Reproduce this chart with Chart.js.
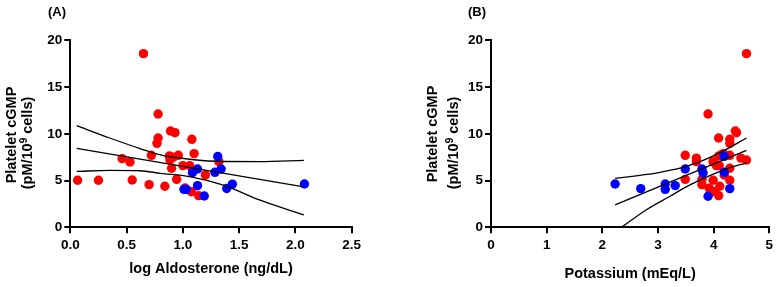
<!DOCTYPE html>
<html>
<head>
<meta charset="utf-8">
<script src="https://cdn.jsdelivr.net/npm/chart.js@4.4.1/dist/chart.umd.min.js"></script>
<style>
  html, body { margin: 0; padding: 0; background: #fff; }
  #wrap { position: relative; width: 778px; height: 287px; }
  .panel { position: absolute; top: 0; height: 287px; }
  #panel-a { left: 0; width: 390px; }
  #panel-b { left: 390px; width: 388px; }
</style>
</head>
<body>
<div id="wrap">
  <div class="panel" id="panel-a"><canvas id="chart-a" width="390" height="287"></canvas></div>
  <div class="panel" id="panel-b"><canvas id="chart-b" width="388" height="287"></canvas></div>
</div>
<script>
// (A) log aldosterone vs platelet cGMP
const aldoRedX = [0.065, 0.25, 0.46, 0.53, 0.55, 0.65, 0.70, 0.72, 0.78, 0.78, 0.77, 0.84, 0.88, 0.89, 0.93,
  0.885, 0.915, 0.90, 0.96, 0.945, 1.00, 1.06, 1.08, 1.10, 1.02, 1.075, 1.14, 1.20, 1.32];
const aldoRedY = [5.03, 5.03, 7.34, 6.99, 5.06, 18.57, 4.56, 7.70, 12.12, 9.55, 8.98, 4.39, 7.62, 10.3, 10.12,
  7.2, 7.5, 6.31, 7.70, 5.13, 6.6, 6.6, 9.41, 7.88, 4.2, 3.81, 3.39, 5.6, 7.02];
const aldoBlueX = [1.01, 1.03, 1.085, 1.13, 1.13, 1.19, 1.285, 1.31, 1.34, 1.39, 1.44, 2.08];
const aldoBlueY = [4.06, 4.06, 5.84, 6.24, 4.45, 3.35, 5.88, 7.57, 6.24, 4.15, 4.62, 4.63];

const aldoFitX = [0.057, 2.075];
const aldoFitY = [8.45, 4.33];
const aldoBandX = [0.057, 0.35, 0.62, 0.80, 1.06, 1.36, 1.68, 2.075];
const aldoUpperY = [10.87, 9.55, 8.42, 7.75, 7.28, 7.04, 7.03, 7.16];
const aldoLowerY = [5.98, 6.08, 6.05, 5.77, 5.42, 4.5, 2.93, 1.32];

// (B) potassium vs platelet cGMP
const kRedX = [4.59, 3.90, 4.39, 4.41, 4.09, 4.29, 4.29, 4.17, 3.49, 4.29, 4.09, 4.49, 3.69, 4.59, 3.69,
  3.99, 4.10, 4.05, 4.29, 4.19, 3.49, 3.79, 3.99, 4.29, 3.79, 4.11, 3.92, 4.02, 4.09];
const kRedY = [18.57, 12.12, 10.3, 10.12, 9.55, 9.41, 8.98, 7.88, 7.70, 7.70, 7.62, 7.4, 7.4, 7.2, 7.02,
  7.02, 6.6, 6.6, 6.31, 5.6, 5.13, 5.13, 5.03, 5.03, 4.56, 4.39, 4.17, 3.81, 3.39];
const kBlueX = [2.23, 2.69, 3.13, 3.13, 3.31, 3.49, 3.79, 3.81, 3.90, 4.19, 4.19, 4.29];
const kBlueY = [4.63, 4.14, 4.63, 4.06, 4.46, 6.24, 6.24, 5.81, 3.32, 7.59, 5.88, 4.14];

const kFitX = [2.23, 4.59];
const kFitY = [2.39, 8.23];
const kBandX = [2.23, 2.8, 3.21, 3.5, 3.81, 4.2, 4.59];
const kUpperY = [5.24, 5.65, 6.1, 6.5, 7.15, 8.25, 9.55];
const kLowerY = [-0.5, 1.9, 3.3, 4.3, 5.2, 6.2, 6.9];

// ticks
const yTicks = [0, 5, 10, 15, 20];
const aldoTicks = [0, 0.5, 1.0, 1.5, 2.0, 2.5];
const kTicks = [0, 1, 2, 3, 4, 5];

const FONT = '"Liberation Sans", Arial, sans-serif';
const RED = "#ff0000";
const BLUE = "#0000ff";

function toPoints(xs, ys) {
  return xs.map((x, i) => ({ x, y: ys[i] }));
}

/** 축 제목 / 패널 라벨 (윗첨자 포함) */
const panelText = {
  id: "panelText",
  afterDraw(chart, args, opts) {
    const ctx = chart.ctx;
    const big = `bold 14.5px ${FONT}`;
    const sup = `bold 10px ${FONT}`;
    ctx.save();
    ctx.fillStyle = "#000";
    ctx.textBaseline = "middle";
    ctx.font = `bold 13px ${FONT}`;
    ctx.textAlign = "left";
    ctx.fillText(opts.label, opts.labelX, opts.labelY);

    // line 1
    ctx.save();
    ctx.font = big;
    ctx.translate(opts.line1X, opts.line1Y);
    ctx.rotate(-Math.PI / 2);
    ctx.textAlign = "center";
    ctx.fillText("Platelet cGMP", 0, 0);
    ctx.restore();

    // line 2: (pM/10^9 cells)
    ctx.save();
    ctx.translate(opts.line2X, opts.line2Y);
    ctx.rotate(-Math.PI / 2);
    ctx.textAlign = "left";
    const p1 = "(pM/10";
    const p2 = "9";
    const p3 = " cells)";
    ctx.font = big;
    const w1 = ctx.measureText(p1).width;
    const w3 = ctx.measureText(p3).width;
    ctx.font = sup;
    const w2 = ctx.measureText(p2).width;
    const x0 = -(w1 + w2 + w3) / 2;
    ctx.font = big;
    ctx.fillText(p1, x0, 0);
    ctx.font = sup;
    ctx.fillText(p2, x0 + w1, -3.5);
    ctx.font = big;
    ctx.fillText(p3, x0 + w1 + w2, 0);
    ctx.restore();

    ctx.restore();
  },
};

function lineSet(xs, ys, smooth) {
  return {
    type: "line",
    data: toPoints(xs, ys),
    borderColor: "#000",
    borderWidth: 1.3,
    pointRadius: 0,
    fill: false,
    showLine: true,
    cubicInterpolationMode: smooth ? "monotone" : "default",
    tension: 0,
  };
}

function dotSet(xs, ys, color) {
  return {
    type: "scatter",
    data: toPoints(xs, ys),
    backgroundColor: color,
    borderColor: color,
    borderWidth: 0,
    pointRadius: 4.7,
  };
}

function makePanel(canvasId, cfg) {
  const ctx = document.getElementById(canvasId).getContext("2d");
  return new Chart(ctx, {
    type: "scatter",
    data: {
      datasets: [
        lineSet(cfg.fitX, cfg.fitY, false),
        lineSet(cfg.bandX, cfg.upperY, true),
        lineSet(cfg.bandX, cfg.lowerY, true),
        dotSet(cfg.blueX, cfg.blueY, BLUE),
        dotSet(cfg.redX, cfg.redY, RED),
      ],
    },
    options: {
      responsive: false,
      animation: false,
      layout: {
        padding: { left: 0, top: 40.3, right: cfg.padRight, bottom: 0 },
      },
      scales: {
        x: {
          type: "linear",
          min: cfg.xTicks[0],
          max: cfg.xTicks[cfg.xTicks.length - 1],
          afterBuildTicks: (scale) => {
            scale.ticks = cfg.xTicks.map((v) => ({ value: v }));
          },
          afterFit: (scale) => {
            scale.height = 287 - 227.3;
          },
          grid: { drawOnChartArea: false, drawTicks: true, tickLength: 6, color: "#000", lineWidth: 2 },
          border: { color: "#000", width: 2 },
          ticks: {
            color: "#000",
            padding: 4,
            maxRotation: 0,
            font: { family: FONT, size: 13.5, weight: "bold" },
            callback: (v) => cfg.xFormat(v),
          },
          title: {
            display: true,
            text: cfg.xTitle,
            color: "#000",
            font: { family: FONT, size: 14.5, weight: "bold" },
            padding: { top: 0, bottom: cfg.xTitlePad },
          },
        },
        y: {
          type: "linear",
          min: 0,
          max: 20,
          afterBuildTicks: (scale) => {
            scale.ticks = yTicks.map((v) => ({ value: v }));
          },
          afterFit: (scale) => {
            scale.width = cfg.yWidth;
          },
          grid: { drawOnChartArea: false, drawTicks: true, tickLength: 6, color: "#000", lineWidth: 2 },
          border: { color: "#000", width: 2 },
          ticks: {
            color: "#000",
            padding: 2,
            font: { family: FONT, size: 13.5, weight: "bold" },
          },
        },
      },
      plugins: {
        legend: { display: false },
        tooltip: { enabled: false },
        panelText: cfg.text,
      },
    },
    plugins: [panelText],
  });
}

makePanel("chart-a", {
  redX: aldoRedX, redY: aldoRedY, blueX: aldoBlueX, blueY: aldoBlueY,
  fitX: aldoFitX, fitY: aldoFitY, bandX: aldoBandX, upperY: aldoUpperY, lowerY: aldoLowerY,
  xTicks: aldoTicks,
  xFormat: (v) => Number(v).toFixed(1),
  xTitle: "log Aldosterone (ng/dL)",
  xTitlePad: 9.5,
  yWidth: 70.3,
  padRight: 38.3,
  text: { label: "(A)", labelX: 48, labelY: 12, line1X: 11.5, line1Y: 135, line2X: 27.5, line2Y: 143 },
});

makePanel("chart-b", {
  redX: kRedX, redY: kRedY, blueX: kBlueX, blueY: kBlueY,
  fitX: kFitX, fitY: kFitY, bandX: kBandX, upperY: kUpperY, lowerY: kLowerY,
  xTicks: kTicks,
  xFormat: (v) => String(v),
  xTitle: "Potassium (mEq/L)",
  xTitlePad: 4.5,
  yWidth: 101,
  padRight: 8.7,
  text: { label: "(B)", labelX: 78, labelY: 12, line1X: 42.5, line1Y: 134, line2X: 64, line2Y: 143 },
});
</script>
</body>
</html>
